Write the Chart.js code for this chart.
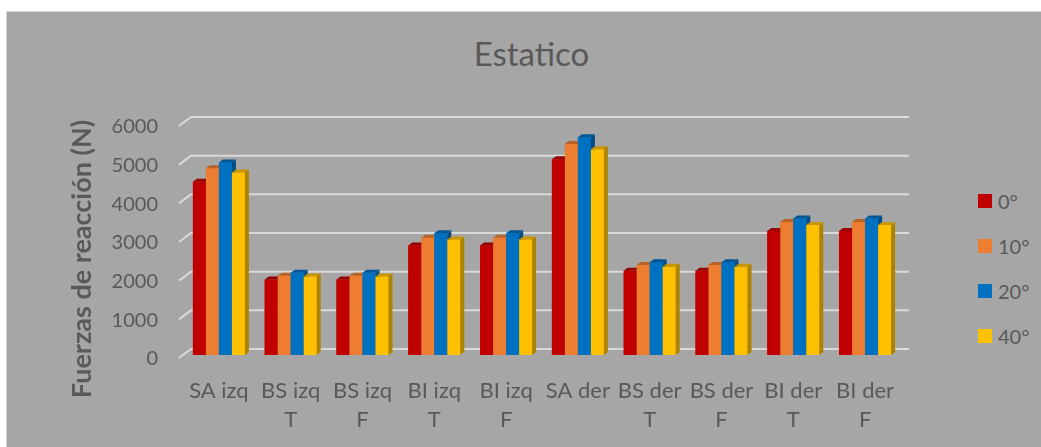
<!DOCTYPE html>
<html>
<head>
<meta charset="utf-8">
<script src="https://cdn.jsdelivr.net/npm/chart.js@4.4.1/dist/chart.umd.min.js"></script>
<style>
    body { margin: 0; background: #ffffff; font-family: Lato, "Open Sans", sans-serif; }
    #frame {
        position: absolute; left: 6px; top: 11px; width: 1034px; height: 435px;
        background: #a6a6a6; border-top: 1px solid #d4d4d4; border-left: 1px solid #d4d4d4;
    }
    #chartTitle {
        position: absolute; left: 0; top: 37px; width: 1063px; text-align: center;
        font-size: 33px; line-height: 33px; color: #595959;
    }
    #legend { position: absolute; left: 978px; top: 178px; }
    .legend-item { display: flex; align-items: center; height: 45px; font-size: 20px; line-height: 20px; color: #595959; }
    .legend-box { width: 14px; height: 14px; margin-right: 6px; }
    canvas { position: absolute; left: 0; top: 0; }
</style>
</head>
<body>
<div id="frame"></div>
<div id="chartTitle">Estatico</div>
<div id="legend"></div>
<canvas id="estaticoChart" width="1041" height="447"></canvas>
<script>
// Data
const categories = ['SA izq', ['BS izq', 'T'], ['BS izq', 'F'], ['BI izq', 'T'], ['BI izq', 'F'],
                    'SA der', ['BS der', 'T'], ['BS der', 'F'], ['BI der', 'T'], ['BI der', 'F']];
const seriesNames = ['0°', '10°', '20°', '40°'];
const values0 = [4480, 1950, 1950, 2830, 2830, 5060, 2180, 2180, 3210, 3210];
const values10 = [4830, 2050, 2050, 3030, 3030, 5460, 2330, 2330, 3440, 3440];
const values20 = [4980, 2130, 2130, 3150, 3150, 5630, 2400, 2400, 3530, 3530];
const values40 = [4720, 2030, 2030, 2990, 2990, 5320, 2280, 2280, 3360, 3360];
const yTickValues = [0, 1000, 2000, 3000, 4000, 5000, 6000];

const seriesColors = ['#c00000', '#ed7d31', '#0070c0', '#ffc000'];
const textColor = '#595959';
const gridColor = '#d9d9d9';

// depth of the fake 3D bars
const depthX = 4;
const depthY = 3;

function shade(hex, factor) {
    const n = parseInt(hex.slice(1), 16);
    const r = Math.round(((n >> 16) & 255) * factor);
    const g = Math.round(((n >> 8) & 255) * factor);
    const b = Math.round((n & 255) * factor);
    return `rgb(${r}, ${g}, ${b})`;
}

// Back wall grid lines with the little floor diagonal on the left
const wallGrid = {
    id: 'wallGrid',
    beforeDatasetsDraw(chart) {
        const { ctx, chartArea, scales: { y } } = chart;
        ctx.save();
        ctx.strokeStyle = gridColor;
        ctx.lineWidth = 2;
        y.ticks.forEach(tick => {
            const py = y.getPixelForValue(tick.value);
            ctx.beginPath();
            ctx.moveTo(chartArea.left - 4, py + 3);
            ctx.lineTo(chartArea.left + 8, py - 6);
            ctx.lineTo(chartArea.right + 8, py - 6);
            ctx.stroke();
        });
        ctx.restore();
    }
};

// Top and side faces, painted left to right so neighbours hide each other
const bars3d = {
    id: 'bars3d',
    afterDatasetsDraw(chart) {
        const ctx = chart.ctx;
        const metas = chart.data.datasets.map((ds, i) => chart.getDatasetMeta(i));
        ctx.save();
        for (let c = 0; c < categories.length; c++) {
            metas.forEach((meta, i) => {
                const bar = meta.data[c];
                const color = seriesColors[i];
                const left = bar.x - bar.width / 2;
                const right = bar.x + bar.width / 2;

                ctx.fillStyle = color;
                ctx.fillRect(left, bar.y, bar.width, bar.base - bar.y);

                ctx.fillStyle = shade(color, 0.78);
                ctx.beginPath();
                ctx.moveTo(left, bar.y);
                ctx.lineTo(left + depthX, bar.y - depthY);
                ctx.lineTo(right + depthX, bar.y - depthY);
                ctx.lineTo(right, bar.y);
                ctx.closePath();
                ctx.fill();

                ctx.fillStyle = shade(color, 0.68);
                ctx.beginPath();
                ctx.moveTo(right, bar.y);
                ctx.lineTo(right + depthX, bar.y - depthY);
                ctx.lineTo(right + depthX, bar.base - depthY);
                ctx.lineTo(right, bar.base);
                ctx.closePath();
                ctx.fill();
            });
        }
        ctx.restore();
    }
};

// Excel centres the axis title a bit lower than the plot area
const yTitleDrop = {
    id: 'yTitleDrop',
    afterLayout(chart) {
        chart.scales.y.bottom += 40;
    }
};

const allValues = [values0, values10, values20, values40];
const datasets = seriesNames.map((name, i) => ({
    label: name,
    data: allValues[i],
    backgroundColor: seriesColors[i],
    borderWidth: 0,
    barPercentage: 1.0,
    categoryPercentage: 0.724
}));

const chart = new Chart(document.getElementById('estaticoChart'), {
    type: 'bar',
    data: { labels: categories, datasets: datasets },
    plugins: [wallGrid, bars3d, yTitleDrop],
    options: {
        responsive: false,
        animation: false,
        events: [],
        layout: { padding: { left: 60, right: 140, top: 123, bottom: 10 } },
        plugins: {
            legend: { display: false },
            title: { display: false },
            tooltip: { enabled: false }
        },
        scales: {
            x: {
                grid: { display: false },
                border: { display: false },
                ticks: {
                    color: textColor,
                    font: { family: 'Lato', size: 22, lineHeight: 1.32 },
                    padding: 13.5,
                    maxRotation: 0,
                    autoSkip: false
                },
                afterFit(scale) { scale.height = 82; }
            },
            y: {
                min: yTickValues[0],
                max: yTickValues[yTickValues.length - 1],
                grid: { display: false },
                border: { display: false },
                afterBuildTicks(scale) {
                    scale.ticks = yTickValues.map(v => ({ value: v }));
                },
                ticks: {
                    color: textColor,
                    font: { family: 'Lato', size: 20 },
                    padding: 17,
                    labelOffset: 4,
                    callback: value => String(value)
                },
                title: {
                    display: true,
                    text: 'Fuerzas de reacción (N)',
                    color: textColor,
                    font: { family: 'Lato', size: 27, weight: 'bold' },
                    padding: { top: 6, bottom: 0 }
                },
                afterFit(scale) { scale.width = 123; }
            }
        }
    }
});

// Legend built from the datasets
const legend = document.getElementById('legend');
chart.data.datasets.forEach(ds => {
    const item = document.createElement('div');
    item.className = 'legend-item';
    item.innerHTML = `<span class="legend-box" style="background:${ds.backgroundColor}"></span><span>${ds.label}</span>`;
    legend.appendChild(item);
});
</script>
</body>
</html>
